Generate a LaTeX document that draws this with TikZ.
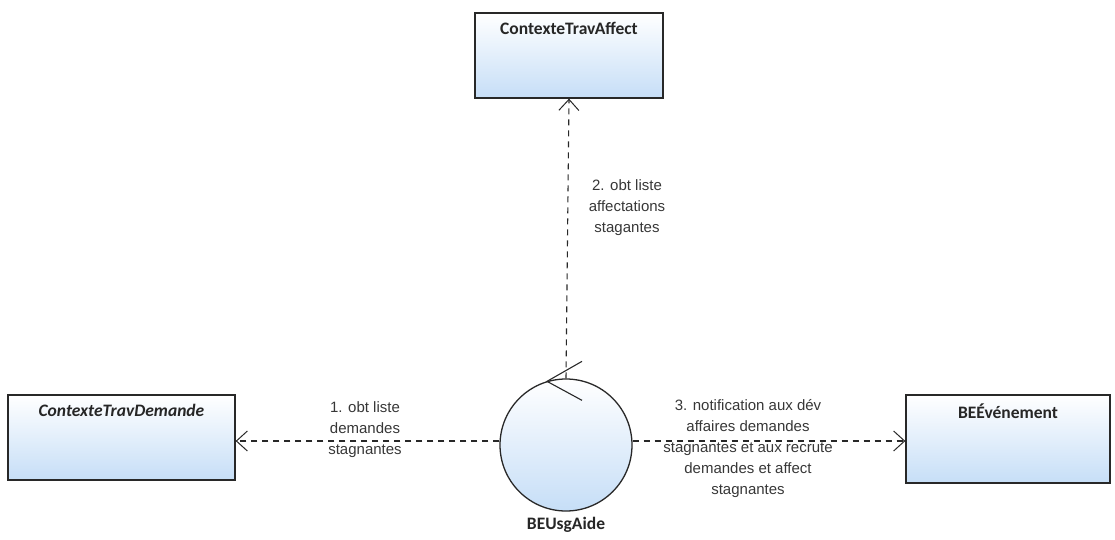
\documentclass[tikz,border=0pt]{standalone}
\usepackage{fontspec}
\setmainfont{Liberation Sans}
\newfontfamily\titlefont{Carlito}
\usetikzlibrary{arrows.meta,positioning,calc}
\definecolor{edge}{RGB}{40,40,40}
\definecolor{lblue}{RGB}{198,222,247}
\definecolor{txt}{RGB}{55,55,55}
\begin{document}
\begin{tikzpicture}[
  x=1pt, y=-1pt,
  classbox/.style={draw=edge, line width=1.3pt, top color=white, bottom color=lblue, inner sep=0pt},
  ctrl/.style={draw=edge, line width=1.3pt, circle, top color=white, bottom color=lblue, minimum size=132pt, inner sep=0pt},
  title/.style={font=\titlefont\bfseries\fontsize{17.5}{20}\selectfont, text=black!85},
  msg/.style={font=\fontsize{15}{21}\selectfont, align=center, text=txt},
  arrow/.style={draw=edge, line width=1.1pt, dash pattern=on 6pt off 5pt, -{Straight Barb[length=11pt, width=20pt, line width=1pt]}}
]
\useasboundingbox (0,0) rectangle (1115,540);

% classes
\node[classbox, minimum width=188pt, minimum height=85pt] (affect) at (569, 55.5) {};
\node[title, anchor=north] at ([yshift=-6pt]affect.north) {ContexteTravAffect};
\node[classbox, minimum width=227pt, minimum height=85pt] (demande) at (121.5, 437.5) {};
\node[title, anchor=north] at ([yshift=-6pt]demande.north) {\itshape ContexteTravDemande};
\node[classbox, minimum width=204pt, minimum height=88pt] (evt) at (1008, 439) {};
\node[title, anchor=north] at ([yshift=-6pt]evt.north) {BEÉvénement};

% controller
\node[ctrl] (aide) at (566, 445) {};
\node[title, below=2pt of aide] (aidelbl) {BEUsgAide};
\draw[edge, line width=1.1pt] ([shift={(16,-17)}]aide.north) -- ([shift={(-19,3)}]aide.north) -- ([shift={(16,22)}]aide.north);

% messages
\draw[arrow] (aide.north) -- (affect.south);
\draw[arrow] (aide.west |- 0,441) -- (demande.east |- 0,441);
\draw[arrow] (aide.east |- 0,441) -- (evt.west |- 0,441);
\node[msg] (m2) at (627, 208) {2. obt liste\\affectations\\stagantes};
\node[msg] (m1) at (365, 430) {1. obt liste\\demandes\\stagnantes};
\node[msg] (m3) at (748, 449) {3. notification aux dév\\affaires demandes\\stagnantes et aux recrute\\demandes et affect\\stagnantes};
\end{tikzpicture}
\end{document}
